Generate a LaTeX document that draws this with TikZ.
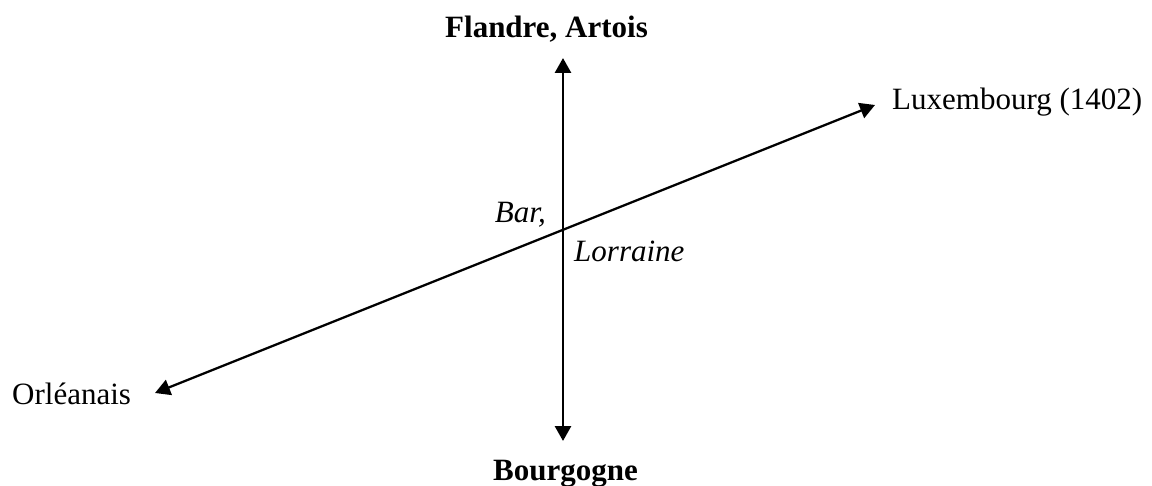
\documentclass[tikz,border=0pt]{standalone}
\usepackage{fontspec}
\setmainfont{Liberation Serif}
\usetikzlibrary{arrows.meta}

\begin{document}
\begin{tikzpicture}[x=1pt,y=-1pt,
  lbl/.style={inner sep=0pt,font=\fontsize{31}{37}\selectfont},
  axis/.style={line width=2.8pt,{Triangle[length=15pt,width=16pt]}-{Triangle[length=15pt,width=16pt]}}]
\useasboundingbox (0,0) rectangle (1152,486);
% end points of the two axes
\coordinate (top) at (563,58);
\coordinate (bot) at (563,441);
\coordinate (left) at (155,393);
\coordinate (right) at (875,105);
\draw[axis] (bot) -- (top);
\draw[axis,line width=2.3pt] (left) -- (right);
% labels
\node[lbl,anchor=base west,font=\fontsize{31}{37}\selectfont\bfseries] (flandre) at (445,38) {Flandre, Artois};
\node[lbl,anchor=base west,font=\fontsize{31}{37}\selectfont\bfseries] (bourgogne) at (493,480) {Bourgogne};
\node[lbl,anchor=base west] (orleanais) at (12,405) {Orléanais};
\node[lbl,anchor=base west] (luxembourg) at (892,110) {Luxembourg (1402)};
\node[lbl,anchor=base east,font=\fontsize{31}{37}\selectfont\itshape] (bar) at (546,223) {Bar,};
\node[lbl,anchor=base west,font=\fontsize{31}{37}\selectfont\itshape] (lorraine) at (574,262) {Lorraine};
\end{tikzpicture}
\end{document}
